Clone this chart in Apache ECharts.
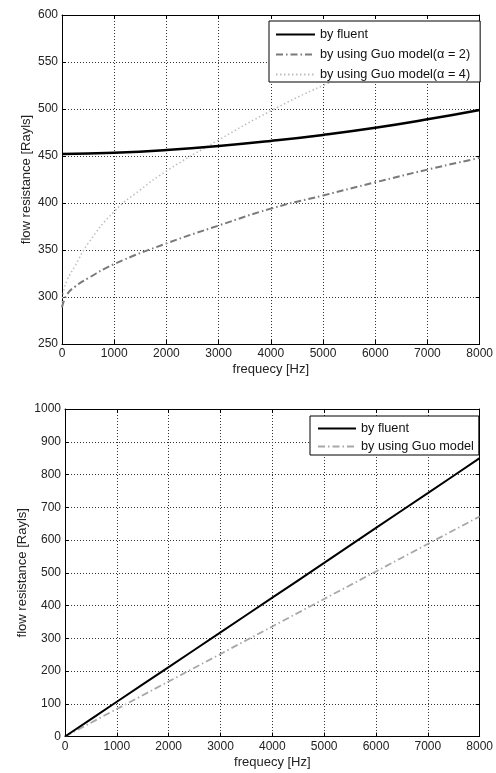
<!DOCTYPE html>
<html>
<head>
<meta charset="utf-8">
<script src="https://cdn.jsdelivr.net/npm/echarts@6/dist/echarts.min.js"></script>
<style>
html,body{margin:0;padding:0;background:#fff;}
#c{width:496px;height:773px;}
</style>
</head>
<body>
<div id="c"></div>
<script>
// ---- Top chart data ----
const fluentTopFreq = [0,1000,2000,3000,4000,5000,6000,7000,8000];
const fluentTop     = [452,453.5,456.4,460.6,466,472.4,480,489,499];
const guo2TopFreq = [0,100,250,500,1000,2000,3000,4000,5000,6000,7000,8000];
const guo2Top     = [289,303,311,320,335,357,376,394,408,422,435.5,448];
const guo4TopFreq = [0,25,100,250,500,1000,1500,2000,3000,4000,5000,6000,7000,8000];
const guo4Top     = [290,304,318,333,357,391,414,434,467,498,525,548,568,588];
// ---- Bottom chart data ----
const bottomFreq   = [0,1000,2000,3000,4000,5000,6000,7000,8000];
const fluentBottom = [0,106,212,318,424,530,637,743,850];
const guoBottom    = [0,84,168,252,336,420,504,588,672];
// ---- Labels ----
const xName = 'frequecy [Hz]';
const yName = 'flow resistance [Rayls]';
const namesTop = ['by fluent', 'by using Guo model(\u03b1 = 2)', 'by using Guo model(\u03b1 = 4)'];
const namesBottom = ['by fluent ', 'by using Guo model'];

function pairs(xs, ys){ return xs.map((x,i)=>[x, ys[i]]); }

const FONT = '"Liberation Sans", Arial, sans-serif';
const gridLine = {show:true, lineStyle:{color:'#333', type:[1,2], width:1}};
const axLine = {show:true, onZero:false, lineStyle:{color:'#000', width:1}};
const plain = v => String(v);

function xAxes(gi, gap){
  return [
    {type:'value', gridIndex:gi, min:0, max:8000, interval:1000, position:'bottom',
     axisLine:axLine, axisTick:{show:true, inside:true, length:4, lineStyle:{color:'#000'}},
     axisLabel:{color:'#222', fontSize:12, fontFamily:FONT, margin:4, formatter:plain},
     splitLine:gridLine,
     name:xName, nameLocation:'middle', nameGap:gap, nameMoveOverlap:false,
     nameTextStyle:{color:'#222', fontSize:13, fontFamily:FONT}},
    {type:'value', gridIndex:gi, min:0, max:8000, interval:1000, position:'top',
     axisLine:axLine, axisTick:{show:true, inside:true, length:4, lineStyle:{color:'#000'}},
     axisLabel:{show:false}, splitLine:{show:false}}
  ];
}
function yAxes(gi, min, max, interval, gap){
  return [
    {type:'value', gridIndex:gi, min:min, max:max, interval:interval, position:'left',
     axisLine:axLine, axisTick:{show:true, inside:true, length:4, lineStyle:{color:'#000'}},
     axisLabel:{color:'#222', fontSize:12, fontFamily:FONT, margin:4, formatter:plain},
     splitLine:gridLine,
     name:yName, nameLocation:'middle', nameGap:gap, nameRotate:90, nameMoveOverlap:false,
     nameTextStyle:{color:'#222', fontSize:13, fontFamily:FONT}},
    {type:'value', gridIndex:gi, min:min, max:max, interval:interval, position:'right',
     axisLine:axLine, axisTick:{show:true, inside:true, length:4, lineStyle:{color:'#000'}},
     axisLabel:{show:false}, splitLine:{show:false}}
  ];
}

const legendCommon = {
  orient:'vertical', itemWidth:39, itemHeight:14,
  backgroundColor:'#fff', borderColor:'#000', borderWidth:1, borderRadius:0,
  selectedMode:false,
  itemStyle:{opacity:0, color:'transparent', borderWidth:0},
  textStyle:{color:'#111', fontSize:12.7, fontFamily:FONT}
};

const chart = echarts.init(document.getElementById('c'), null, {renderer:'canvas'});
chart.setOption({
  backgroundColor:'#fff',
  animation:false,
  grid:[
    {left:62, top:15, right:15, height:329},
    {left:65, top:409, right:15, height:327.5}
  ],
  xAxis:[...xAxes(0, 19), ...xAxes(1, 19)],
  yAxis:[...yAxes(0,250,600,50, 29), ...yAxes(1,0,1000,100, 36.5)],
  legend:[
    Object.assign({}, legendCommon, {data:namesTop, left:269, top:21,
      padding:[7,10,1,6], itemGap:7}),
    Object.assign({}, legendCommon, {data:namesBottom, left:310, top:416,
      padding:[6,5,2,7], itemGap:5, itemWidth:38})
  ],
  series:[
    {name:namesTop[2], type:'line', xAxisIndex:0, yAxisIndex:0, data:pairs(guo4TopFreq,guo4Top),
     showSymbol:false, symbol:'none', smooth:0.5, clip:true,
     itemStyle:{color:'#bdbdbd'},
     lineStyle:{color:'#bdbdbd', width:1.5, type:[1.5,2.5]}},
    {name:namesTop[1], type:'line', xAxisIndex:0, yAxisIndex:0, data:pairs(guo2TopFreq,guo2Top),
     showSymbol:false, symbol:'none', smooth:0.5, clip:true,
     itemStyle:{color:'#7a7a7a'},
     lineStyle:{color:'#7a7a7a', width:2, type:[7,3,1.5,3]}},
    {name:namesTop[0], type:'line', xAxisIndex:0, yAxisIndex:0, data:pairs(fluentTopFreq,fluentTop),
     showSymbol:false, symbol:'none', smooth:0.5, clip:true,
     itemStyle:{color:'#000'},
     lineStyle:{color:'#000', width:2.5, type:'solid'}},
    {name:namesBottom[1], type:'line', xAxisIndex:2, yAxisIndex:2, data:pairs(bottomFreq,guoBottom),
     showSymbol:false, symbol:'none', smooth:0.3, clip:true,
     itemStyle:{color:'#a8a8a8'},
     lineStyle:{color:'#a8a8a8', width:1.8, type:[7,3,1.5,3]}},
    {name:namesBottom[0], type:'line', xAxisIndex:2, yAxisIndex:2, data:pairs(bottomFreq,fluentBottom),
     showSymbol:false, symbol:'none', smooth:0.3, clip:true,
     itemStyle:{color:'#000'},
     lineStyle:{color:'#000', width:2, type:'solid'}}
  ]
});
</script>
</body>
</html>
